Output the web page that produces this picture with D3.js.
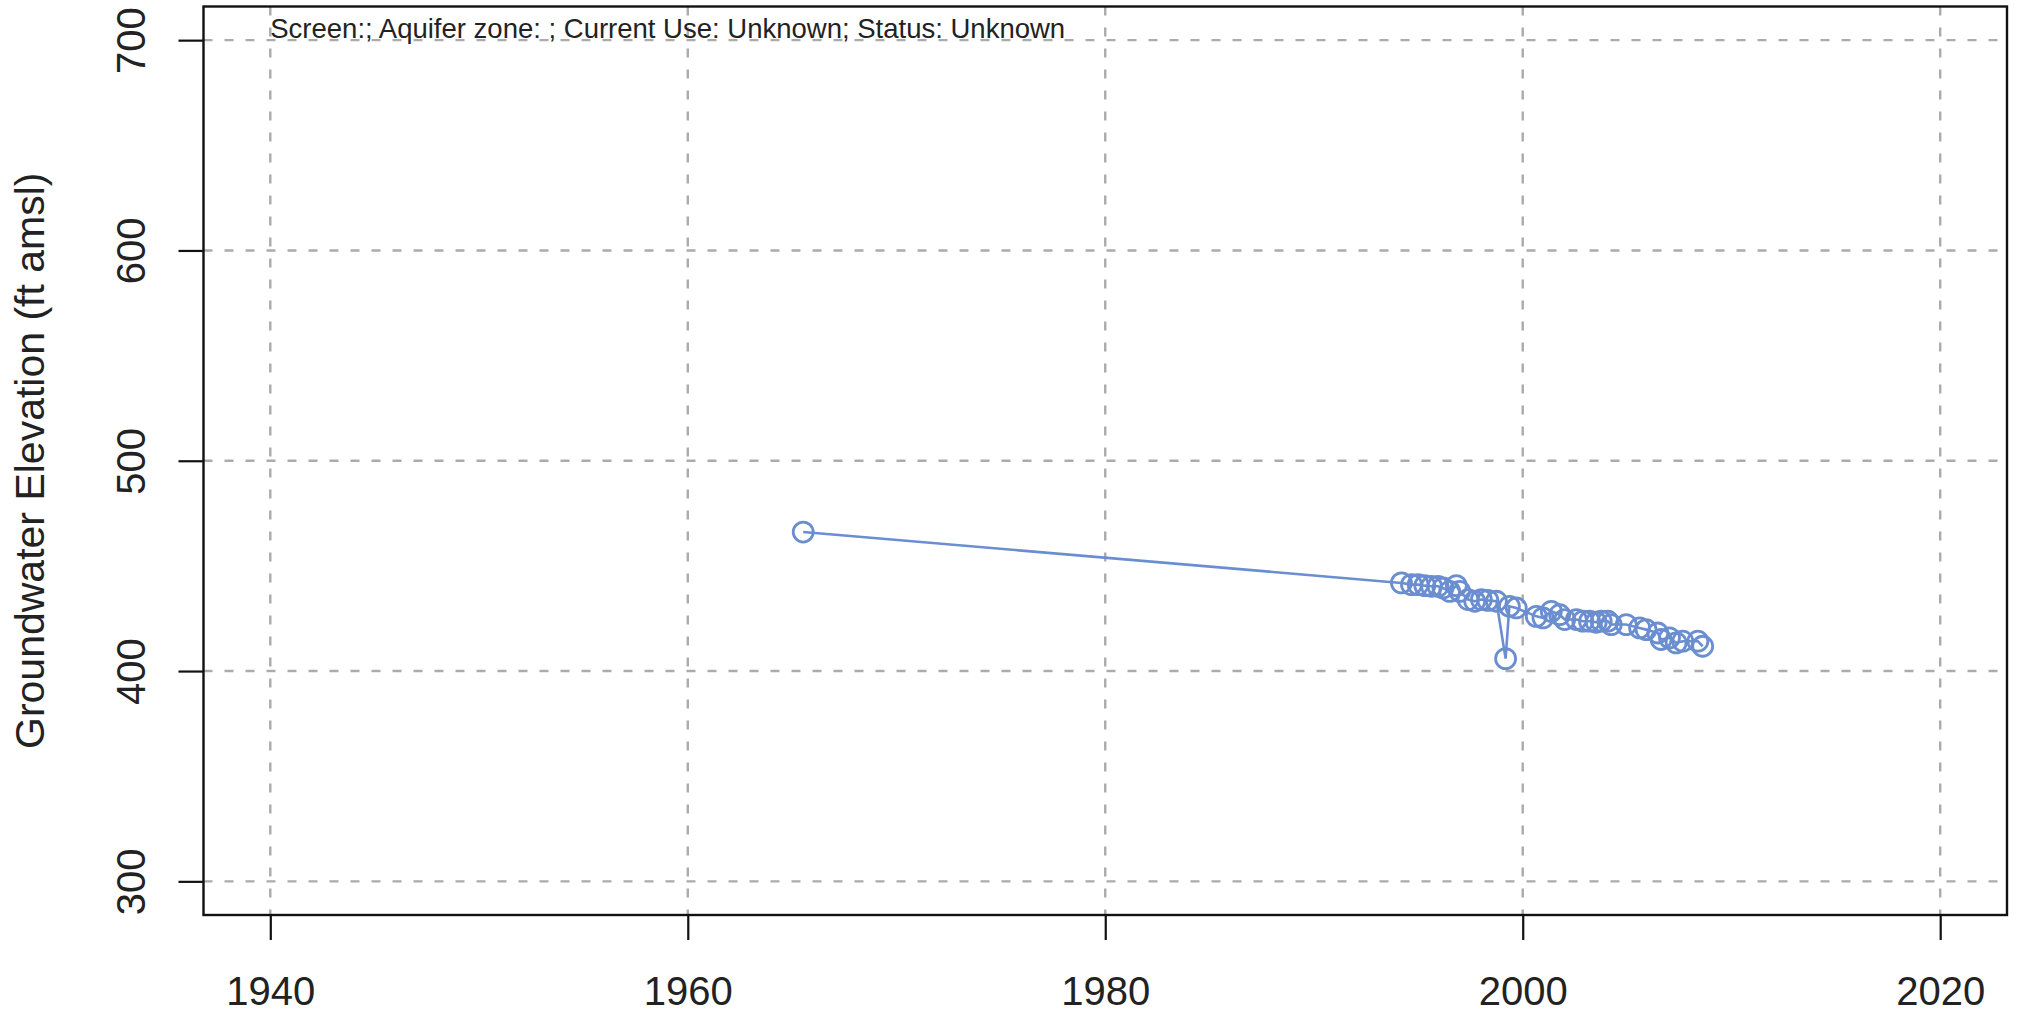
<!DOCTYPE html>
<html>
<head>
<meta charset="utf-8">
<script src="https://cdn.jsdelivr.net/npm/d3@7"></script>
<style>
  body { margin: 0; background: #fff; }
  text { font-family: "Liberation Sans", Arial, Helvetica, sans-serif; }
</style>
</head>
<body>
<svg id="svg1"></svg>
<script>
// data (decimal year, ft amsl)
const years = [1965.53, 1994.19, 1994.67, 1994.99, 1995.31, 1995.63, 1995.94, 1996.18, 1996.50,
  1996.82, 1996.98, 1997.38, 1997.70, 1998.02, 1998.33, 1998.74, 1999.18, 1999.36, 1999.69,
  2000.65, 2000.97, 2001.37, 2001.77, 2002.01, 2002.57, 2002.88, 2003.20, 2003.52, 2003.76,
  2004.08, 2004.24, 2004.96, 2005.60, 2005.91, 2006.47, 2006.63, 2007.03, 2007.35, 2007.67,
  2008.39, 2008.62];
const elevations = [466.1, 441.9, 441.1, 441.1, 440.6, 440.3, 440.3, 439.5, 437.9,
  440.6, 437.9, 434.0, 433.2, 434.0, 433.6, 433.2, 405.9, 430.8, 430.0,
  426.0, 425.3, 428.4, 426.8, 424.5, 424.5, 423.7, 423.7, 423.2, 423.7,
  423.7, 422.1, 422.1, 420.5, 419.7, 418.1, 415.0, 415.8, 413.4, 414.2,
  414.2, 411.8];

const xTicks = [1940, 1960, 1980, 2000, 2020];
const yTicks = [300, 400, 500, 600, 700];
const xLimits = [1940, 2020];
const yLimits = [300, 700];
const titleText = "Screen:; Aquifer zone: ; Current Use: Unknown; Status: Unknown";
const yLabel = "Groundwater Elevation (ft amsl)";

// layout
const width = 2021, height = 1013;
const margin = {top: 6.5, right: 14, bottom: 98, left: 203.5};
const innerW = width - margin.left - margin.right;
const innerH = height - margin.top - margin.bottom;
const lineColor = "#6a8ed0";
const gridColor = "#ababab";

const data = years.map((d, i) => ({year: d, value: elevations[i]}));

// R style 4% padding on the limits
function pad(lim) {
  const r = lim[1] - lim[0];
  return [lim[0] - r * 0.04, lim[1] + r * 0.04];
}

const svg = d3.select('#svg1')
    .attr('width', width)
    .attr('height', height)
    .append('g')
    .attr('transform', 'translate(' + margin.left + ',' + margin.top + ')');

const x = d3.scaleLinear().domain(pad(xLimits)).range([0, innerW]);
const y = d3.scaleLinear().domain(pad(yLimits)).range([innerH, 0]);

// grid
svg.append('g').selectAll('line')
    .data(yTicks)
    .enter().append('line')
    .attr('x1', 0).attr('x2', innerW)
    .attr('y1', d => y(d)).attr('y2', d => y(d))
    .attr('stroke', gridColor).attr('stroke-width', 2.4)
    .attr('stroke-dasharray', '9,12');
svg.append('g').selectAll('line')
    .data(xTicks)
    .enter().append('line')
    .attr('y1', 0).attr('y2', innerH)
    .attr('x1', d => x(d)).attr('x2', d => x(d))
    .attr('stroke', gridColor).attr('stroke-width', 2.4)
    .attr('stroke-dasharray', '9,12');

// axes
const xAxis = svg.append('g')
    .attr('transform', 'translate(0,' + innerH + ')')
    .call(d3.axisBottom(x).tickValues(xTicks).tickFormat(d3.format('d')).tickSize(25).tickSizeOuter(0));
xAxis.select('.domain').remove();
xAxis.selectAll('line').attr('stroke', '#111').attr('stroke-width', 2.2);
xAxis.selectAll('text')
    .attr('y', 90).attr('dy', 0)
    .attr('fill', '#222')
    .style('font-size', '40px');

const yAxis = svg.append('g')
    .call(d3.axisLeft(y).tickValues(yTicks).tickFormat(d3.format('d')).tickSize(25).tickSizeOuter(0));
yAxis.select('.domain').remove();
yAxis.selectAll('line').attr('stroke', '#111').attr('stroke-width', 2.2);
yAxis.selectAll('text')
    .attr('x', 0).attr('y', -59).attr('dy', 0)
    .attr('transform', 'rotate(-90)')
    .attr('text-anchor', 'middle')
    .attr('fill', '#222')
    .style('font-size', '40px');

// box
svg.append('rect')
    .attr('width', innerW).attr('height', innerH)
    .attr('fill', 'none').attr('stroke', '#111').attr('stroke-width', 2.4);

// y label
svg.append('text')
    .attr('transform', 'translate(' + (44 - margin.left) + ',' + (innerH / 2) + ') rotate(-90)')
    .attr('text-anchor', 'middle')
    .attr('fill', '#222')
    .style('font-size', '41px')
    .text(yLabel);

// title inside plot
svg.append('text')
    .attr('x', x(xLimits[0]))
    .attr('y', 38 - margin.top)
    .attr('fill', '#222')
    .style('font-size', '27.5px')
    .text(titleText);

// series
const line = d3.line().x(d => x(d.year)).y(d => y(d.value));
svg.append('path')
    .datum(data)
    .attr('d', line)
    .attr('fill', 'none')
    .attr('stroke', lineColor)
    .attr('stroke-width', 2.6);

svg.selectAll('circle.pt')
    .data(data)
    .enter().append('circle')
    .attr('class', 'pt')
    .attr('cx', d => x(d.year))
    .attr('cy', d => y(d.value))
    .attr('r', 10)
    .attr('fill', 'none')
    .attr('stroke', lineColor)
    .attr('stroke-width', 2.8);
</script>
</body>
</html>
